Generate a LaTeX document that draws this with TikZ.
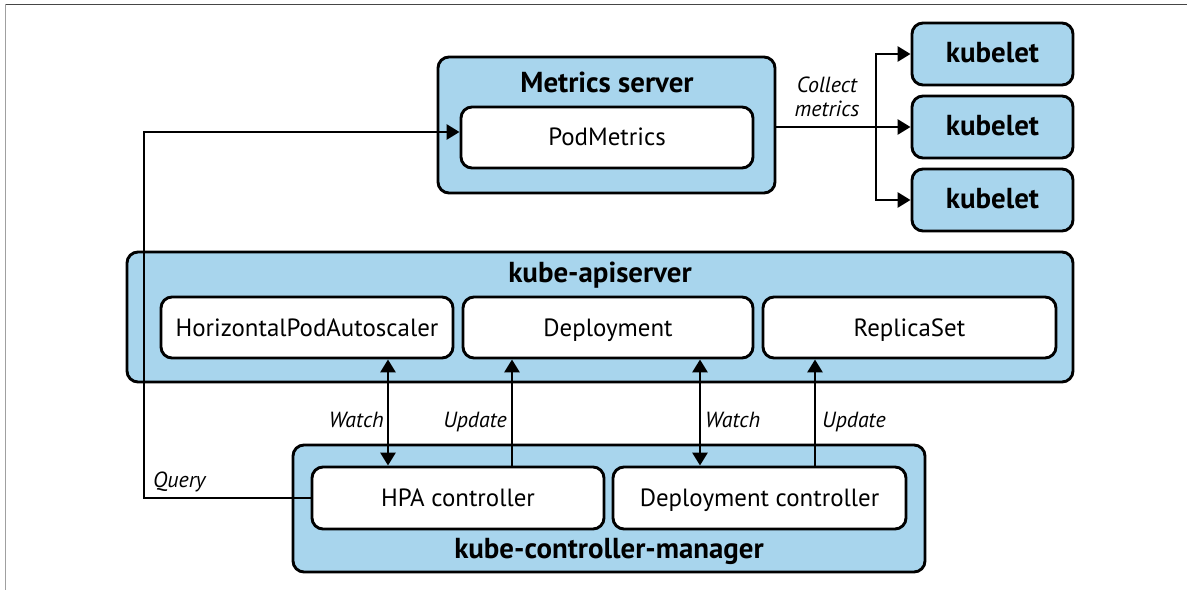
\documentclass[tikz,border=0pt]{standalone}
\usepackage{fontspec}
\setmainfont{PT Sans}
\usetikzlibrary{arrows.meta}
\definecolor{kblue}{RGB}{168,213,237}
\definecolor{frametop}{RGB}{70,70,70}
\definecolor{frameleft}{RGB}{160,160,160}
\begin{document}
\begin{tikzpicture}[x=1bp,y=-1bp,
  outerbox/.style={draw, line width=2.9bp, fill=kblue, rounded corners=11bp, inner sep=0pt},
  innerbox/.style={draw, line width=2.9bp, fill=white, rounded corners=11bp, inner sep=0pt,
    minimum height=61bp, font=\fontsize{25}{28}\selectfont, text height=17bp, text depth=0pt},
  kubebox/.style={draw, line width=2.9bp, fill=kblue, rounded corners=11bp, inner sep=0pt,
    minimum width=161bp, minimum height=62bp, font=\bfseries\fontsize{29}{32}\selectfont,
    text height=18bp, text depth=0pt},
  header/.style={font=\bfseries\fontsize{29}{32}\selectfont, anchor=base, inner sep=0pt},
  lbl/.style={font=\itshape\fontsize{22}{24}\selectfont, inner sep=0pt},
  arr/.style={line width=2.9bp, -{Triangle[length=13bp,width=15bp]}},
  dblarr/.style={line width=2.9bp, {Triangle[length=13bp,width=15bp]}-{Triangle[length=13bp,width=15bp]}}
]
\useasboundingbox (0,0) rectangle (1187,590);
% frame
\draw[line width=1.1bp, frametop] (5,4.5) -- (1187,4.5);
\draw[line width=1.3bp, frameleft] (5.5,4) -- (5.5,590);

% Metrics server
\node[outerbox, minimum width=337bp, minimum height=136bp] (ms) at (606.5,125) {};
\node[header] (mslbl) at (607,93) {Metrics server};
\node[innerbox, minimum width=292bp] (pm) at (607,137.5) {PodMetrics};

% kubelets
\node[kubebox] (kub1) at (992.5,54) {kubelet};
\node[kubebox] (kub2) at (992.5,127) {kubelet};
\node[kubebox] (kub3) at (992.5,200) {kubelet};

% kube-apiserver
\node[outerbox, minimum width=946bp, minimum height=130bp] (api) at (600,317) {};
\node[header] (apilbl) at (600,283) {kube-apiserver};
\node[innerbox, minimum width=292bp] (hpa) at (307,327.5) {HorizontalPodAutoscaler};
\node[innerbox, minimum width=290bp] (dep) at (608,327.5) {Deployment};
\node[innerbox, minimum width=293bp] (rs) at (909.5,327.5) {ReplicaSet};

% kube-controller-manager
\node[outerbox, minimum width=632bp, minimum height=127bp] (kcm) at (609,508.5) {};
\node[header] (kcmlbl) at (609,558) {kube-controller-manager};
\node[innerbox, minimum width=292bp, minimum height=62bp] (hpac) at (458,498) {HPA controller};
\node[innerbox, minimum width=293bp, minimum height=62bp] (depc) at (759.5,498) {Deployment controller};

% helper coordinates
\coordinate (c1) at (388,0);
\coordinate (c2) at (512,0);
\coordinate (c3) at (700,0);
\coordinate (c4) at (815,0);
\coordinate (qx) at (144,498);
\coordinate (qin) at ([yshift=5.5bp]pm.west);
\coordinate (br) at (876,127);

% Query
\draw[arr] (hpac.west) -- (qx) |- (qin);
\node[lbl, anchor=base west] (qlbl) at (153,487) {Query};

% Collect metrics
\draw[arr] (ms.east |- kub2.west) -- (kub2.west);
\draw[arr] (br) |- (kub1.west);
\draw[arr] (br) |- (kub3.west);
\node[lbl, anchor=base] (cm1) at (827,93) {Collect};
\node[lbl, anchor=base] (cm2) at (827,117) {metrics};

% Watch / Update
\draw[dblarr] (hpa.south -| c1) -- (hpac.north -| c1);
\node[lbl, anchor=base east] (w1) at (384,427) {Watch};
\draw[arr] (hpac.north -| c2) -- (dep.south -| c2);
\node[lbl, anchor=base east] (u1) at (507,427) {Update};
\draw[dblarr] (dep.south -| c3) -- (depc.north -| c3);
\node[lbl, anchor=base west] (w2) at (705,427) {Watch};
\draw[arr] (depc.north -| c4) -- (rs.south -| c4);
\node[lbl, anchor=base west] (u2) at (822,427) {Update};
\end{tikzpicture}
\end{document}
